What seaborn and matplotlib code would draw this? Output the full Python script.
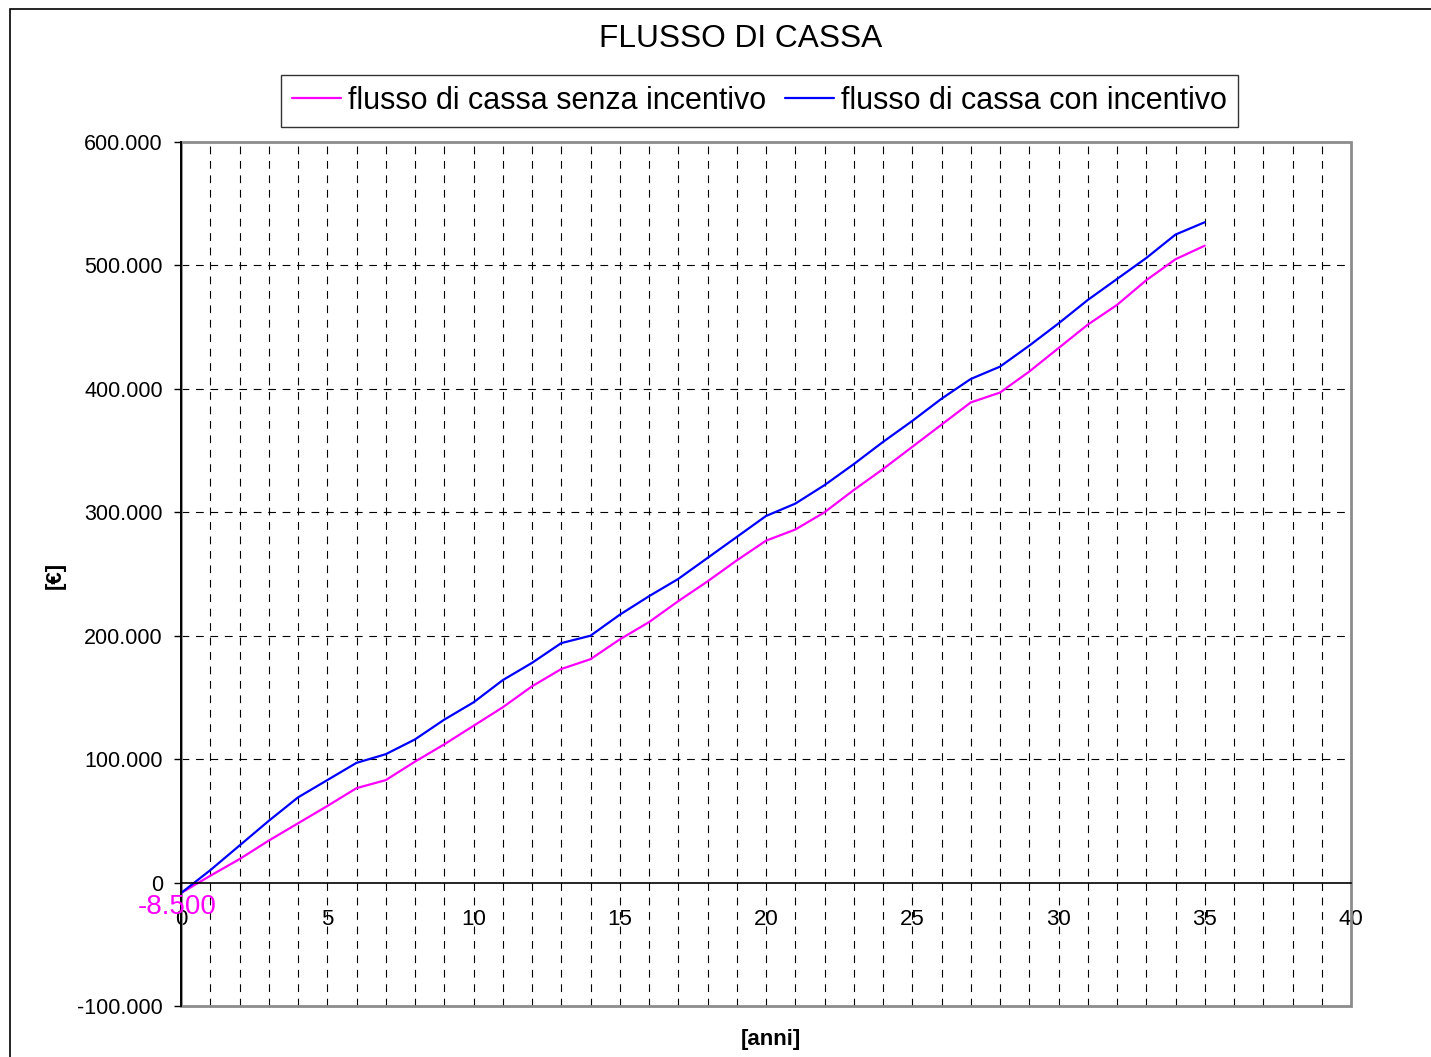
import matplotlib
matplotlib.use("Agg")
import matplotlib.pyplot as plt
import matplotlib.ticker as mticker
from matplotlib.patches import Rectangle
from matplotlib.lines import Line2D
import seaborn as sns
import pandas as pd

anni = list(range(0, 36))
senza_incentivo = [-8500, 5500, 19000, 34000, 48000, 62000, 76500, 83000, 98000, 112000,
                   127000, 142000, 159000, 173000, 181000, 197000, 211000, 228000, 244000, 261000,
                   277000, 286000, 300000, 318000, 335000, 353000, 371000, 389000, 397000, 414000,
                   433000, 452000, 468000, 488000, 505000, 516000]
con_incentivo = [-8500, 10000, 30000, 50000, 69000, 83000, 97000, 104000, 116000, 132000,
                 146000, 164000, 178000, 194000, 200000, 217000, 232000, 246000, 263000, 280000,
                 297000, 307000, 322000, 339000, 357000, 374000, 392000, 408000, 418000, 435000,
                 453000, 472000, 489000, 506000, 525000, 535000]
serie = ["flusso di cassa senza incentivo", "flusso di cassa con incentivo"]
titolo = "FLUSSO DI CASSA"
x_label = "[anni]"
y_label = "[€]"
etichetta = "-8.500"

df = pd.DataFrame({
    "anno": anni * 2,
    "valore": senza_incentivo + con_incentivo,
    "serie": [serie[0]] * len(anni) + [serie[1]] * len(anni),
})

sns.set_theme(style="white")
plt.rcParams["font.family"] = ["Liberation Sans", "DejaVu Sans"]
plt.rcParams["text.color"] = "black"
plt.rcParams["xtick.color"] = "black"
plt.rcParams["ytick.color"] = "black"
plt.rcParams["xtick.labelcolor"] = "black"
plt.rcParams["ytick.labelcolor"] = "black"

W, H = 1431, 1057
fig = plt.figure(figsize=(W / 100, H / 100), dpi=100)
ax = fig.add_axes([181 / W, 1 - 1006 / H, (1351 - 181) / W, (1006 - 142) / H])

palette = {serie[0]: "#FF00FF", serie[1]: "#0000FF"}
sns.lineplot(data=df, x="anno", y="valore", hue="serie", hue_order=serie,
             palette=palette, linewidth=1.6, ax=ax, legend=False)

ax.set_xlim(0, 40)
ax.set_ylim(-100000, 600000)

ax.xaxis.set_major_locator(mticker.MultipleLocator(5))
ax.xaxis.set_minor_locator(mticker.MultipleLocator(1))
ax.yaxis.set_major_locator(mticker.MultipleLocator(100000))
for xv in range(1, 40):
    ax.axvline(xv, color="black", lw=0.8, ls=(0, (7, 6)), zorder=0.5)
for yv in range(100000, 600000, 100000):
    ax.axhline(yv, color="black", lw=0.8, ls=(0, (7, 6)), zorder=0.5)

for s in ["top", "right"]:
    ax.spines[s].set_visible(False)
ax.add_patch(Rectangle((0, 0), 1, 1, transform=ax.transAxes, fill=False,
                       edgecolor="#8c8c8c", lw=2, clip_on=False, zorder=1))
ax.spines["left"].set_color("black")
ax.spines["left"].set_linewidth(1.4)
ax.spines["left"].set_zorder(3)
ax.spines["bottom"].set_position(("data", 0))
ax.spines["bottom"].set_color("black")
ax.spines["bottom"].set_linewidth(1.2)

ax.yaxis.set_major_formatter(mticker.FuncFormatter(
    lambda v, p: f"{int(v):,}".replace(",", ".")))
ax.tick_params(axis="x", which="major", direction="out", length=5, width=1,
               color="black", labelsize=16, pad=14, labelcolor="black")
ax.tick_params(axis="x", which="minor", length=0)
ax.tick_params(axis="y", which="major", direction="out", length=5, width=1,
               color="black", labelsize=15.5, pad=8, left=True, labelcolor="black")
ax.set_xlabel("")
ax.set_ylabel("")

fig.text(771 / W, 1 - 1039 / H, x_label, ha="center", va="center",
         fontsize=16, fontweight="bold", color="black")
fig.text(55 / W, 1 - 575 / H, y_label, ha="center", va="center",
         fontsize=16, fontweight="bold", rotation=90, color="black")
fig.text(741 / W, 1 - 39 / H, titolo, ha="center", va="center", fontsize=22.8,
         color="black")

ax.annotate(etichetta, xy=(0, -8500), xytext=(-3, -10), textcoords="offset points",
            ha="center", va="center", color="#FF00FF", fontsize=20,
            annotation_clip=False, zorder=5)

handles = [Line2D([], [], color=palette[s], lw=1.6) for s in serie]
leg = fig.legend(handles, serie, loc="center", bbox_to_anchor=(759.5 / W, 1 - 101 / H),
                 ncol=2, frameon=True, fancybox=False, fontsize=22,
                 handlelength=1.6, handletextpad=0.25, columnspacing=0.6,
                 borderpad=0.35, labelcolor="black")
leg.get_frame().set_edgecolor("black")
leg.get_frame().set_linewidth(1.0)

fig.patches.append(Rectangle((10 / W, -0.1), 2, 1.1 - 9 / H, transform=fig.transFigure,
                             fill=False, edgecolor="black", lw=1.2))

fig.savefig("out.png", dpi=100)
